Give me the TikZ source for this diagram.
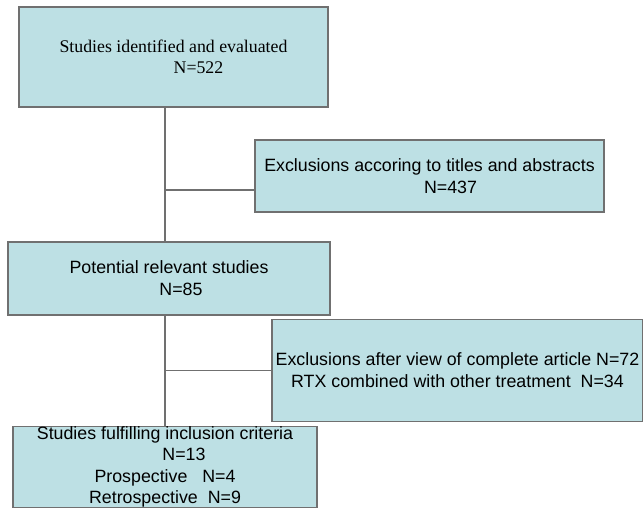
\documentclass[tikz,border=0pt]{standalone}
\usepackage{fontspec}
\setmainfont{Liberation Sans}
\newfontfamily\serifbox{Liberation Serif}
\usepackage{tikz}
\usetikzlibrary{positioning, backgrounds}
\definecolor{boxfill}{RGB}{189,224,228}
\definecolor{boxline}{RGB}{112,112,112}
\def\trunkx{165}

\begin{document}
\begin{tikzpicture}[x=1pt, y=-1pt,
	flowbox/.style={draw=boxline, fill=boxfill, line width=1.2pt, inner sep=0pt, align=center, font=\fontsize{17.8}{22}\selectfont},
	link/.style={draw=boxline, line width=1.2pt}]
	\useasboundingbox (0,0) rectangle (643,508);

	\node [flowbox, minimum width=309pt, minimum height=100pt, font=\serifbox\fontsize{17.8}{21}\selectfont] (found) at (173.5,57) {Studies identified and evaluated\\ \hspace*{50pt}N=522};
	\node [flowbox, minimum width=349pt, minimum height=72pt] (exclA) at (429.5,176) {Exclusions accoring to titles and abstracts\\ \hspace*{42pt}N=437};
	\node [flowbox, minimum width=322pt, minimum height=73pt] (relevant) at (169,278.5) {Potential relevant studies\\ \hspace*{24pt}N=85};
	\node [flowbox, minimum width=371pt, minimum height=102pt] (exclB) at (457.5,370.5) {Exclusions after view of complete article N=72\\ RTX combined with other treatment~~N=34};
	\node [flowbox, minimum width=304pt, minimum height=80pt, font=\fontsize{17.8}{21.3}\selectfont] (included) at (165,467) {Studies fulfilling inclusion criteria\\ \hspace*{38pt}N=13\\ Prospective~~~N=4\\ Retrospective~~N=9};

	\begin{scope}[on background layer]
		\coordinate (trunk) at (\trunkx,0);
		\draw [link] (found.south -| trunk) -- (included.north -| trunk);
		\draw [link] ([yshift=-14pt]exclA.west -| trunk) -- ([yshift=-14pt]exclA.west);
		\draw [link] (exclB.west -| trunk) -- (exclB.west);
	\end{scope}
\end{tikzpicture}
\end{document}
